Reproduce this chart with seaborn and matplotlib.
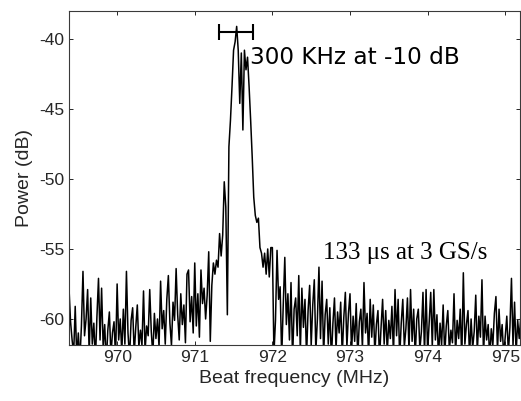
import numpy as np
import seaborn as sns
import matplotlib.pyplot as plt

# frequency grid (MHz) of the read-off spectrum
f_start = 969.38
f_step = 0.02

# power (dB), one value per grid step
power = [
    # 969.38 - 970.0
    -57.8, -60.2, -61.5, -62.5, -59.1, -62.8, -61.0, -63.0, -60.5, -56.6,
    -61.2, -60.0, -57.9, -62.5, -58.5, -61.8, -60.3, -63.0, -59.8, -57.1,
    -61.5, -57.8, -62.0, -60.4, -63.2, -60.8, -59.5, -62.6, -61.0, -60.2,
    -62.8,
    # 970.0 - 971.0
    -57.5, -61.5, -60.0, -62.4, -59.3, -61.8, -56.6, -61.0, -62.8, -60.1,
    -59.2, -62.5, -60.6, -59.0, -62.0, -60.8, -61.9, -58.0, -62.3, -60.5,
    -61.2, -57.9, -60.9, -62.6, -59.6, -61.4, -60.0, -62.0, -57.3, -60.7,
    -59.4, -61.8, -58.6, -56.9, -60.3, -61.9, -58.8, -60.1, -56.4, -59.7,
    -61.5, -58.2, -60.4, -59.0, -61.7, -56.8, -56.5, -60.2, -58.4, -61.0,
    # 971.0 - 972.0 (peak)
    -56.0, -60.5, -58.2, -61.3, -56.5, -58.9, -57.8, -60.0, -58.3, -55.2,
    -61.6, -57.6, -56.0, -56.8, -55.8, -56.3, -53.9, -55.5, -54.0, -50.2,
    -52.0, -59.7, -47.7, -45.8, -43.4, -40.8, -40.2, -39.1, -40.8, -44.6,
    -41.0, -46.5, -40.8, -42.2, -41.3, -43.4, -45.8, -48.4, -51.3, -52.6,
    -53.1, -52.8, -54.9, -55.3, -56.3, -55.3, -56.8, -55.0, -57.0, -54.9,
    # 972.0 - 973.0
    -54.9, -62.5, -60.1, -55.1, -58.6, -57.7, -62.8, -59.0, -55.6, -60.4,
    -58.2, -61.5, -57.4, -62.9, -59.3, -58.5, -61.2, -56.9, -62.4, -57.8,
    -60.6, -58.6, -62.7, -59.4, -57.6, -61.9, -59.0, -57.2, -62.3, -60.0,
    -56.3, -61.4, -57.3, -62.6, -59.7, -58.6, -61.8, -59.2, -62.9, -60.3,
    -58.5, -62.2, -59.5, -61.0, -58.8, -62.6, -59.9, -58.1, -62.0, -59.6,
    # 973.0 - 974.0
    -58.2, -62.4, -59.8, -61.6, -58.9, -62.8, -60.2, -59.3, -62.1, -57.4,
    -61.0, -59.6, -62.7, -58.6, -61.3, -59.0, -62.5, -60.4, -59.4, -62.9,
    -60.6, -58.6, -61.8, -59.4, -62.4, -60.1, -61.4, -59.1, -62.6, -57.9,
    -61.2, -58.6, -62.8, -60.3, -58.6, -62.0, -60.7, -58.5, -62.3, -57.9,
    -61.6, -59.3, -62.7, -60.0, -59.3, -62.2, -60.9, -58.1, -62.5, -57.9,
    # 974.0 - 975.0
    -62.4, -60.2, -58.1, -62.0, -57.9, -61.5, -59.7, -62.8, -60.3, -61.9,
    -59.0, -62.6, -60.5, -59.4, -62.3, -60.8, -61.7, -58.2, -62.5, -60.1,
    -61.4, -59.3, -62.9, -56.7, -61.8, -60.4, -59.4, -62.7, -60.0, -62.1,
    -60.9, -58.3, -62.4, -59.8, -61.3, -57.2, -62.6, -59.8, -61.5, -60.4,
    -62.8, -60.7, -61.9, -59.6, -58.4, -62.3, -59.3, -61.6, -60.4, -62.7,
    # 975.0 - 975.2
    -61.2, -59.8, -62.4, -60.6, -57.1, -61.9, -58.8, -62.5, -60.1, -61.4,
    -59.9,
]

x_ticks = [970, 971, 972, 973, 974, 975]
y_ticks = [-60, -55, -50, -45, -40]

# -10 dB width marker
bar_center = 971.53
bar_half = 0.215
bar_level = -39.5

freq = f_start + f_step * np.arange(len(power))

sns.set_style("ticks")
plt.rcParams['font.family'] = ['Liberation Sans', 'DejaVu Sans']
plt.rcParams['axes.unicode_minus'] = False

fig = plt.figure(figsize=(5.21, 4.01), dpi=100)
ax = fig.add_axes([69 / 521, 56 / 401, 451 / 521, 334 / 401])

sns.lineplot(x=freq, y=power, color='black', lw=1.1, ax=ax,
             estimator=None, sort=False)

ax.errorbar(bar_center, bar_level, xerr=bar_half, color='black', lw=1.5,
            capsize=6, capthick=1.5)

ax.text(971.71, -41.3, "300 KHz at -10 dB", fontsize=16.7, color='black',
        family='DejaVu Sans', ha='left', va='center')
ax.text(972.65, -55.3, "133 \u03bcs at 3 GS/s", fontsize=18, color='black',
        family='Liberation Serif', ha='left', va='center')

ax.set_xlim(969.38, 975.19)
ax.set_ylim(-61.86, -38.0)
ax.set_xticks(x_ticks)
ax.set_yticks(y_ticks)
ax.tick_params(direction='in', top=True, right=True, length=3,
               labelsize=12.5, colors='#262626', width=0.7)
for s in ax.spines.values():
    s.set_visible(True)
    s.set_color('#3a3a3a')
    s.set_linewidth(0.8)

ax.set_xlabel("Beat frequency (MHz)", fontsize=14, color='#262626')
ax.set_ylabel("Power (dB)", fontsize=14, color='#262626')

plt.savefig("out.png", dpi=100)
